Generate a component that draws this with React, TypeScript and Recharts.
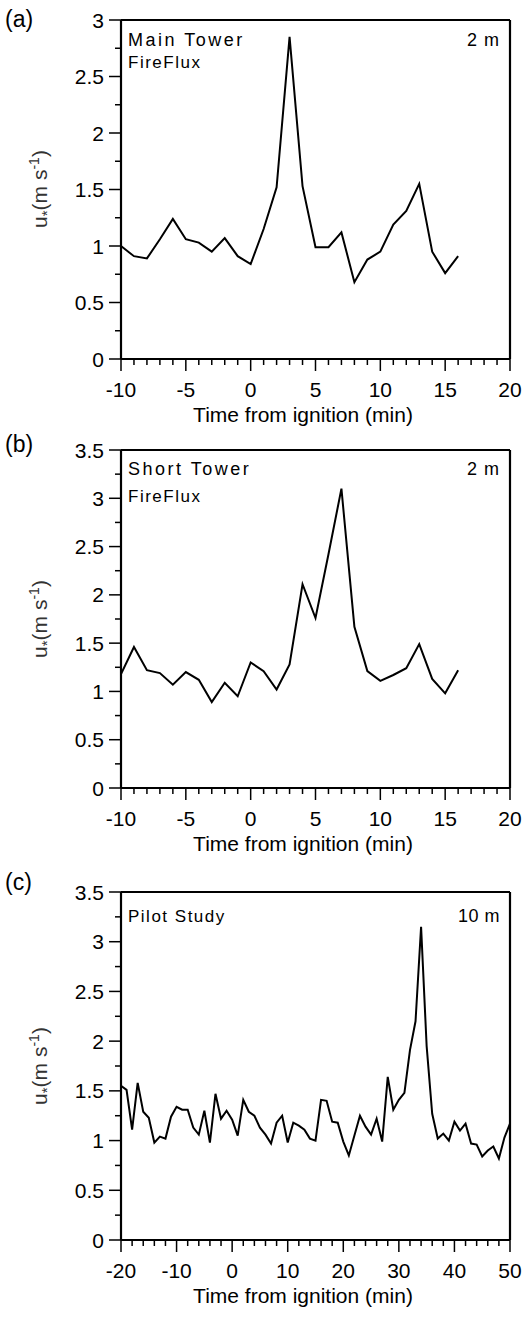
import React from 'react';
import { LineChart, Line, XAxis, YAxis, ReferenceLine } from 'recharts';

const FONT = '"Liberation Sans", Arial, Helvetica, sans-serif';

// (a) Main Tower, FireFlux, 2 m
const timeA = [-10, -9, -8, -7, -6, -5, -4, -3, -2, -1, 0, 1, 2, 3, 4, 5, 6, 7, 8, 9, 10, 11, 12, 13, 14, 15, 16];
const ustarA = [1.0, 0.91, 0.89, 1.06, 1.24, 1.06, 1.03, 0.95, 1.07, 0.91, 0.84, 1.15, 1.52, 2.85, 1.53, 0.99, 0.99, 1.12, 0.68, 0.88, 0.95, 1.19, 1.31, 1.55, 0.95, 0.76, 0.91];

// (b) Short Tower, FireFlux, 2 m
const timeB = [-10, -9, -8, -7, -6, -5, -4, -3, -2, -1, 0, 1, 2, 3, 4, 5, 6, 7, 8, 9, 10, 11, 12, 13, 14, 15, 16];
const ustarB = [1.18, 1.46, 1.22, 1.19, 1.07, 1.2, 1.12, 0.89, 1.09, 0.95, 1.3, 1.21, 1.02, 1.28, 2.11, 1.76, 2.42, 3.1, 1.67, 1.21, 1.11, 1.17, 1.24, 1.49, 1.13, 0.98, 1.22];

// (c) Pilot Study, 10 m
const timeC = [
  -20, -19, -18, -17, -16, -15, -14, -13, -12, -11, -10, -9, -8, -7, -6, -5, -4, -3, -2, -1,
  0, 1, 2, 3, 4, 5, 6, 7, 8, 9, 10, 11, 12, 13, 14, 15, 16, 17, 18, 19,
  20, 21, 22, 23, 24, 25, 26, 27, 28, 29, 30, 31, 32, 33, 34, 35, 36, 37, 38, 39,
  40, 41, 42, 43, 44, 45, 46, 47, 48, 49, 50,
];
const ustarC = [
  1.55, 1.51, 1.11, 1.58, 1.29, 1.23, 0.98, 1.04, 1.02, 1.24, 1.34, 1.31, 1.31, 1.13, 1.06, 1.3, 0.98, 1.47, 1.22, 1.3,
  1.21, 1.05, 1.41, 1.29, 1.25, 1.13, 1.06, 0.97, 1.18, 1.25, 0.98, 1.18, 1.15, 1.11, 1.02, 1.0, 1.41, 1.4, 1.19, 1.18,
  0.99, 0.85, 1.05, 1.25, 1.14, 1.06, 1.22, 0.99, 1.64, 1.31, 1.41, 1.48, 1.91, 2.2, 3.15, 1.95, 1.27, 1.02, 1.07, 1.0,
  1.19, 1.1, 1.17, 0.97, 0.96, 0.84, 0.9, 0.94, 0.82, 1.03, 1.17,
];

const xMajorAB = [-10, -5, 0, 5, 10, 15, 20];
const xMajorC = [-20, -10, 0, 10, 20, 30, 40, 50];
const yMajorA = [0, 0.5, 1, 1.5, 2, 2.5, 3];
const yMajorBC = [0, 0.5, 1, 1.5, 2, 2.5, 3, 3.5];

const range = (a: number, b: number, step: number) => {
  const out: number[] = [];
  for (let v = a; v <= b + 1e-9; v += step) out.push(Math.round(v * 100) / 100);
  return out;
};

const isIn = (list: number[], v: number) => list.some(m => Math.abs(m - v) < 1e-6);

const makeXTick = (majors: number[]) => (props: any) => {
  const { x, y, payload } = props;
  const major = isIn(majors, payload.value);
  return (
    <g>
      <line x1={x} x2={x} y1={y} y2={y + (major ? 12 : 6)} stroke="#000" strokeWidth={1.5} />
      {major && (
        <text x={x} y={y + 38} textAnchor="middle" fontSize={21} fontFamily={FONT} fill="#000">
          {payload.value}
        </text>
      )}
    </g>
  );
};

const makeYTick = (majors: number[]) => (props: any) => {
  const { x, y, payload } = props;
  const major = isIn(majors, payload.value);
  return (
    <g>
      <line x1={x - (major ? 12 : 6)} x2={x} y1={y} y2={y} stroke="#000" strokeWidth={1.5} />
      {major && (
        <text x={x - 17} y={y + 7.5} textAnchor="end" fontSize={21} fontFamily={FONT} fill="#000">
          {payload.value}
        </text>
      )}
    </g>
  );
};

type PanelProps = {
  top: number;
  height: number;
  marginTop: number;
  times: number[];
  values: number[];
  xDomain: [number, number];
  xMajor: number[];
  xMinorStep: number;
  yMax: number;
  yMajor: number[];
};

const Panel: React.FC<PanelProps> = ({ top, height, marginTop, times, values, xDomain, xMajor, xMinorStep, yMax, yMajor }) => {
  const data = times.map((t, i) => ({ t, u: values[i] }));
  return (
    <div style={{ position: 'absolute', top, left: 0 }}>
      <LineChart width={526} height={height} data={data} margin={{ top: marginTop, right: 16, left: 0, bottom: 0 }}>
        <XAxis
          type="number"
          dataKey="t"
          domain={xDomain}
          ticks={range(xDomain[0], xDomain[1], xMinorStep)}
          interval={0}
          tick={makeXTick(xMajor)}
          tickLine={false}
          tickSize={0}
          tickMargin={0}
          axisLine={{ stroke: '#000', strokeWidth: 2.2 }}
          height={71}
          allowDataOverflow
        />
        <YAxis
          type="number"
          domain={[0, yMax]}
          ticks={range(0, yMax, 0.25)}
          interval={0}
          tick={makeYTick(yMajor)}
          tickLine={false}
          tickSize={0}
          tickMargin={0}
          axisLine={{ stroke: '#000', strokeWidth: 2.2 }}
          width={121}
          allowDataOverflow
        />
        <ReferenceLine y={yMax} stroke="#000" strokeWidth={2.2} />
        <ReferenceLine x={xDomain[1]} stroke="#000" strokeWidth={2.2} />
        <Line type="linear" dataKey="u" stroke="#000" strokeWidth={2} dot={false} isAnimationActive={false} />
      </LineChart>
    </div>
  );
};

const YLabel: React.FC<{ cy: number }> = ({ cy }) => (
  <text
    x={40}
    y={cy + 7}
    transform={`rotate(-90 40 ${cy})`}
    textAnchor="middle"
    fontSize={21}
    fontFamily={FONT}
    fill="#333"
  >
    <tspan>u</tspan>
    <tspan dy={5} fontSize={15}>*</tspan>
    <tspan dy={-5}>(m s</tspan>
    <tspan dy={-8} fontSize={14}>-1</tspan>
    <tspan dy={8}>)</tspan>
  </text>
);

const XTitle: React.FC<{ y: number }> = ({ y }) => (
  <text x={303} y={y} textAnchor="middle" fontSize={21} fontFamily={FONT} fill="#000">
    Time from ignition (min)
  </text>
);

const App: React.FC = () => {
  return (
    <div style={{ position: 'absolute', top: 0, left: 0, width: 526, height: 1319, background: '#fff' }}>
      <Panel top={0} height={430} marginTop={20} times={timeA} values={ustarA} xDomain={[-10, 20]} xMajor={xMajorAB} xMinorStep={1} yMax={3} yMajor={yMajorA} />
      <Panel top={430} height={429} marginTop={20} times={timeB} values={ustarB} xDomain={[-10, 20]} xMajor={xMajorAB} xMinorStep={1} yMax={3.5} yMajor={yMajorBC} />
      <Panel top={860} height={451} marginTop={32} times={timeC} values={ustarC} xDomain={[-20, 50]} xMajor={xMajorC} xMinorStep={2} yMax={3.5} yMajor={yMajorBC} />
      <svg width={526} height={1319} style={{ position: 'absolute', top: 0, left: 0, pointerEvents: 'none' }}>
        <g fontFamily={FONT} fill="#000">
          <text x={5} y={27} fontSize={23}>(a)</text>
          <text x={5} y={452} fontSize={23}>(b)</text>
          <text x={5} y={890} fontSize={23}>(c)</text>

          <text x={128} y={46} fontSize={18} letterSpacing={2.5}>Main Tower</text>
          <text x={128} y={68} fontSize={17} letterSpacing={1.5}>FireFlux</text>
          <text x={500} y={46} fontSize={18} letterSpacing={1} textAnchor="end">2 m</text>

          <text x={128} y={475} fontSize={18} letterSpacing={2.5}>Short Tower</text>
          <text x={128} y={502} fontSize={17} letterSpacing={1.5}>FireFlux</text>
          <text x={500} y={475} fontSize={18} letterSpacing={1} textAnchor="end">2 m</text>

          <text x={128} y={922} fontSize={17} letterSpacing={1.5}>Pilot Study</text>
          <text x={500} y={922} fontSize={18} letterSpacing={0.5} textAnchor="end">10 m</text>
        </g>
        <XTitle y={422} />
        <XTitle y={851} />
        <XTitle y={1303} />
        <YLabel cy={189} />
        <YLabel cy={619} />
        <YLabel cy={1066} />
      </svg>
    </div>
  );
};

export default App;
